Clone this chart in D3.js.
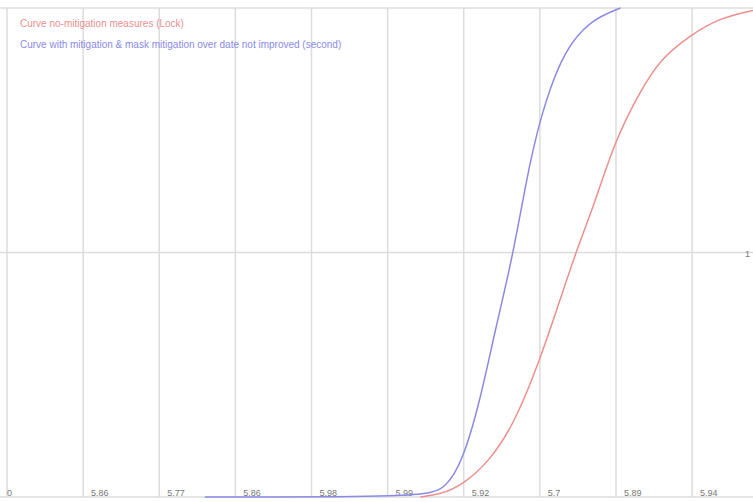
<!DOCTYPE html>
<html>
<head>
<meta charset="utf-8">
<script src="https://cdn.jsdelivr.net/npm/d3@7"></script>
<style>
  body { margin: 0; background: #fff; }
  svg { display: block; font-family: "Liberation Sans", Arial, sans-serif; }
</style>
</head>
<body>
<script>
// tick labels along the bottom (one per vertical gridline)
const xTickLabels = ["0", "5.86", "5.77", "5.86", "5.98", "5.99", "5.92", "5.7", "5.89", "5.94"];
const yTickValues = [1];

// curves: [x position in tick units, y value]
const noMitigation = [
  [5.43, 0], [5.69, 0.01], [5.99, 0.05], [6.35, 0.15], [6.68, 0.31], [7.00, 0.56],
  [7.27, 0.81], [7.46, 0.99], [7.73, 1.21], [7.99, 1.46], [8.32, 1.66], [8.58, 1.79],
  [8.98, 1.89], [9.37, 1.96], [9.80, 1.99]
];
const withMitigation = [
  [2.60, 0], [5.43, 0], [5.76, 0.03], [5.99, 0.15], [6.22, 0.40], [6.41, 0.68],
  [6.65, 0.99], [6.87, 1.38], [7.07, 1.62], [7.33, 1.83], [7.66, 1.95], [8.06, 2.0]
];

const legendLabels = [
  "Curve no-mitigation measures (Lock)",
  "Curve with mitigation & mask mitigation over date not improved (second)"
];
const COLORS = { red: "#ec8f8f", blue: "#8a8ae6", grid: "#dcdcdc", text: "#777" };

const W = 753, H = 502;
const svg = d3.select("body").append("svg").attr("width", W).attr("height", H);

const x = d3.scaleLinear().domain([0, 9.8]).range([7, 753]);
const y = d3.scaleLinear().domain([0, 2]).range([497, 8]);

// vertical gridlines
svg.append("g").selectAll("line").data(d3.range(xTickLabels.length)).join("line")
  .attr("x1", d => x(d)).attr("x2", d => x(d))
  .attr("y1", y(2)).attr("y2", y(0))
  .attr("stroke", COLORS.grid).attr("stroke-width", 1.5);

// horizontal gridlines
svg.append("g").selectAll("line").data([0, 1, 2]).join("line")
  .attr("x1", 0).attr("x2", W)
  .attr("y1", d => y(d)).attr("y2", d => y(d))
  .attr("stroke", COLORS.grid).attr("stroke-width", 1.5);

// x tick labels
svg.append("g").selectAll("text").data(xTickLabels).join("text")
  .attr("x", (d, i) => x(i) + (i === 0 ? 0 : 8))
  .attr("y", 496)
  .attr("font-size", 9).attr("fill", COLORS.text)
  .text(d => d);

// y tick label on the right
svg.append("g").selectAll("text").data(yTickValues).join("text")
  .attr("x", 750).attr("y", d => y(d) + 4)
  .attr("text-anchor", "end")
  .attr("font-size", 9).attr("fill", COLORS.text)
  .text(d => d);

const line = d3.line().x(d => x(d[0])).y(d => y(d[1])).curve(d3.curveBasis);

svg.append("path").datum(noMitigation)
  .attr("d", line).attr("fill", "none")
  .attr("stroke", COLORS.red).attr("stroke-width", 1.5);
svg.append("path").datum(withMitigation)
  .attr("d", line).attr("fill", "none")
  .attr("stroke", COLORS.blue).attr("stroke-width", 1.5);

// legend
const legend = svg.append("g");
legend.selectAll("text").data(legendLabels).join("text")
  .attr("x", 20).attr("y", (d, i) => 27 + i * 21)
  .attr("font-size", 10)
  .attr("fill", (d, i) => i === 0 ? COLORS.red : COLORS.blue)
  .text(d => d);
</script>
</body>
</html>
